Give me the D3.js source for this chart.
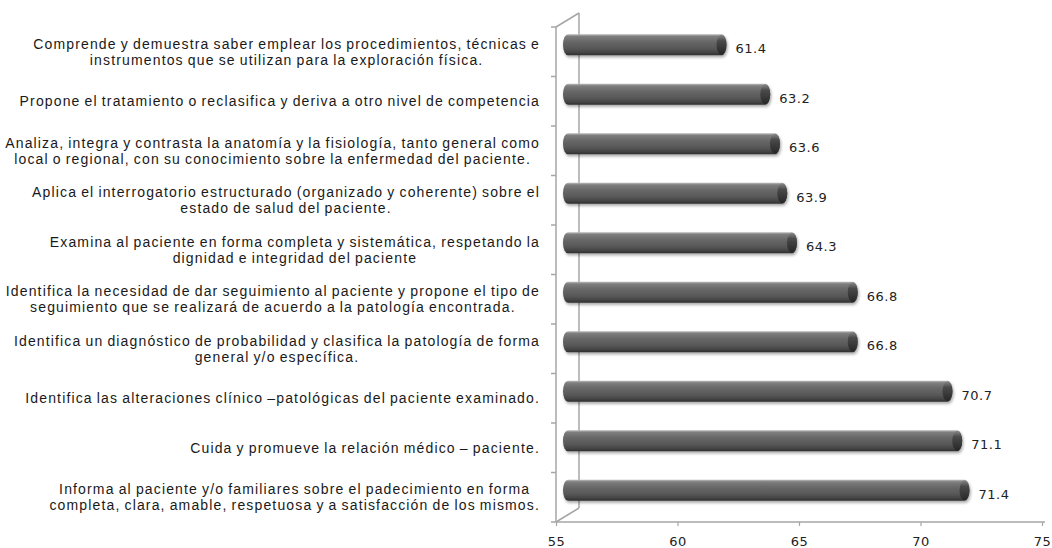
<!DOCTYPE html>
<html>
<head>
<meta charset="utf-8">
<script src="https://cdn.jsdelivr.net/npm/d3@7"></script>
<style>
  html, body { margin: 0; padding: 0; background: #fff; }
  svg { display: block; }
</style>
</head>
<body>
<svg id="chart" width="1052" height="548"></svg>
<script>
// ---- Data ----
const categories = [
  ["Comprende y demuestra saber emplear los procedimientos, técnicas e", "instrumentos que se utilizan para la exploración física."],
  ["Propone el tratamiento o reclasifica y deriva a otro nivel de competencia"],
  ["Analiza, integra y contrasta la anatomía y la fisiología, tanto general como", "local o regional, con su conocimiento sobre la enfermedad del paciente."],
  ["Aplica el interrogatorio  estructurado (organizado y coherente) sobre el", "estado de salud del paciente."],
  ["Examina al paciente en forma completa y sistemática, respetando la", "dignidad e integridad del paciente"],
  ["Identifica la necesidad de dar seguimiento al paciente y propone el tipo de", "seguimiento que se realizará de acuerdo a la patología encontrada."],
  ["Identifica un diagnóstico de probabilidad y clasifica la patología de forma", "general y/o específica."],
  ["Identifica las alteraciones clínico –patológicas del paciente examinado."],
  ["Cuida y promueve la relación médico – paciente."],
  ["Informa  al paciente y/o familiares sobre el padecimiento en forma", "completa, clara, amable, respetuosa y a satisfacción de los mismos."]
];
const values = [61.4, 63.2, 63.6, 63.9, 64.3, 66.8, 66.8, 70.7, 71.1, 71.4];
const tickValues = [55, 60, 65, 70, 75];
const xDomain = [55, 75];

// ---- Layout ----
const svg = d3.select("#chart");
const frontLeft = 556, frontRight = 1042, plotTop = 27, plotBottom = 522;
const depthX = 23, depthY = -14;
const barH = 21;

const x = d3.scaleLinear().domain(xDomain).range([frontLeft, frontRight]);
const idx = d3.range(values.length);
const y = d3.scaleBand().domain(idx).range([plotTop, plotBottom]).padding(0);

const defs = svg.append("defs");
const g1 = defs.append("linearGradient").attr("id", "barGrad").attr("x1", 0).attr("y1", 0).attr("x2", 0).attr("y2", 1);
[[0, "#bcbcbc"], [0.1, "#7e7e7e"], [0.35, "#686868"], [0.7, "#565656"], [0.9, "#404040"], [1, "#2e2e2e"]]
  .forEach(([o, c]) => g1.append("stop").attr("offset", o).attr("stop-color", c));
const g2 = defs.append("linearGradient").attr("id", "capGrad").attr("x1", 0).attr("y1", 0).attr("x2", 0).attr("y2", 1);
[[0, "#8a8a8a"], [0.3, "#4a4a4a"], [1, "#262626"]]
  .forEach(([o, c]) => g2.append("stop").attr("offset", o).attr("stop-color", c));
const flt = defs.append("filter").attr("id", "shadow").attr("x", "-5%").attr("y", "-30%").attr("width", "110%").attr("height", "180%");
flt.append("feGaussianBlur").attr("in", "SourceAlpha").attr("stdDeviation", 1.5);
flt.append("feOffset").attr("dx", 1).attr("dy", 2).attr("result", "ob");
flt.append("feComponentTransfer").append("feFuncA").attr("type", "linear").attr("slope", 0.35);
const fm = flt.append("feMerge");
fm.append("feMergeNode");
fm.append("feMergeNode").attr("in", "SourceGraphic");

// ---- Walls / axes ----
const wallColor = "#a6a6a6";
const wall = svg.append("g").attr("stroke", wallColor).attr("stroke-width", 1.5).attr("fill", "none");
wall.append("line").attr("x1", frontLeft).attr("y1", plotTop).attr("x2", frontLeft).attr("y2", plotBottom);
wall.append("line").attr("x1", frontLeft + depthX).attr("y1", plotTop + depthY).attr("x2", frontLeft + depthX).attr("y2", plotBottom + depthY);
wall.append("line").attr("x1", frontLeft).attr("y1", plotTop).attr("x2", frontLeft + depthX).attr("y2", plotTop + depthY);
wall.append("line").attr("x1", frontLeft).attr("y1", plotBottom).attr("x2", frontLeft + depthX).attr("y2", plotBottom + depthY);
const bounds = idx.map(i => y(i)).concat([plotBottom]);
wall.selectAll("line.ct").data(bounds).join("line").attr("class", "ct")
  .attr("x1", frontLeft - 5).attr("x2", frontLeft).attr("y1", d => d).attr("y2", d => d);

// bottom axis
const axisG = svg.append("g").attr("transform", `translate(0,${plotBottom})`)
  .call(d3.axisBottom(x).tickValues(tickValues).tickSize(4).tickPadding(11).tickSizeOuter(0));
axisG.select(".domain").attr("stroke", wallColor).attr("stroke-width", 1.5).attr("d", `M${frontLeft},0H${frontRight + 3}`);
axisG.selectAll(".tick line").attr("stroke", wallColor).attr("stroke-width", 1.2);
axisG.selectAll(".tick text").attr("font-family", "DejaVu Sans, sans-serif").attr("font-size", 13)
  .attr("letter-spacing", 0.6).attr("fill", "#222");

// ---- Bars ----
const barStart = frontLeft + 7;
const barsG = svg.append("g");
idx.forEach(i => {
  const v = values[i];
  const cy = y(i) + y.bandwidth() / 2 - 7;
  const xe = x(v) + 10;
  const g = barsG.append("g").attr("filter", "url(#shadow)");
  g.append("rect").attr("x", barStart).attr("y", cy - barH / 2).attr("width", xe + 5 - barStart).attr("height", barH)
    .attr("rx", 5).attr("ry", barH / 2).attr("fill", "url(#barGrad)");
  g.append("ellipse").attr("cx", xe).attr("cy", cy).attr("rx", 5).attr("ry", barH / 2 - 0.5).attr("fill", "url(#capGrad)");
  svg.append("text").attr("x", x(v) + 24).attr("y", cy + 4).attr("dy", "0.35em")
    .attr("font-family", "DejaVu Sans, sans-serif").attr("font-size", 13).attr("letter-spacing", 0.5).attr("fill", "#222")
    .text(d3.format(".1f")(v));
});

// ---- Category labels ----
const labelRight = 540;
const lineH = 16;
idx.forEach(i => {
  const lines = categories[i];
  const cy = y(i) + y.bandwidth() / 2;
  const tg = svg.append("g").attr("font-family", "Liberation Sans, Arial, sans-serif").attr("font-size", 14)
    .attr("letter-spacing", 1.15).attr("word-spacing", -1).attr("fill", "#1a1a1a");
  const texts = lines.map((ln, k) => tg.append("text").attr("y", cy + (k - (lines.length - 1) / 2) * lineH).attr("dy", "0.35em").attr("text-anchor", "middle").text(ln));
  const w = d3.max(texts, t => t.node().getComputedTextLength());
  texts.forEach(t => t.attr("x", labelRight - w / 2));
});
</script>
</body>
</html>
